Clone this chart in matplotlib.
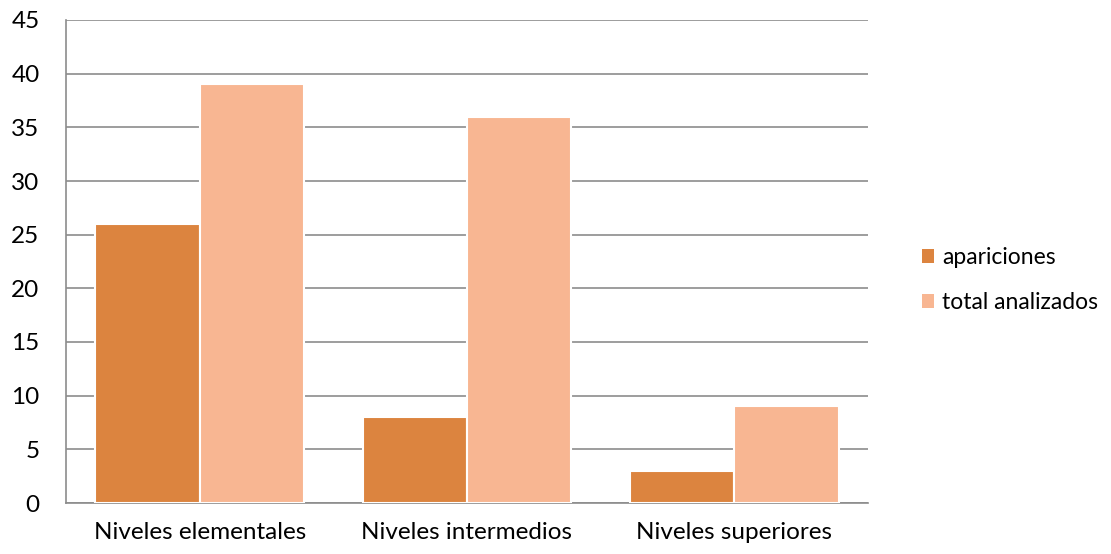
import numpy as np
import matplotlib
matplotlib.use("Agg")
import matplotlib.pyplot as plt
from matplotlib.patches import Patch

categories = ["Niveles elementales", "Niveles intermedios", "Niveles superiores"]
apariciones = [26, 8, 3]
total_analizados = [39, 36, 9]
series_names = ["apariciones", "total analizados"]
colors = ["#DC843F", "#F8B692"]

plt.rcParams["font.family"] = ["Lato", "DejaVu Sans"]

fig = plt.figure(figsize=(11.11, 5.54), dpi=100)
ax = fig.add_axes([66 / 1111, 1 - 503 / 554, (868 - 66) / 1111, (503 - 20) / 554])

x = np.arange(len(categories))
w = 0.39
for i, (vals, col) in enumerate(zip([apariciones, total_analizados], colors)):
    ax.bar(x + (i - 0.5) * w, vals, width=w, color=col, edgecolor="white",
           linewidth=1.5, zorder=3)

ax.set_xlim(-0.5, len(categories) - 0.5)
ax.set_ylim(0, 45)
ax.set_yticks(range(0, 46, 5))
ax.set_xticks(x)
ax.set_xticklabels(categories)
ax.tick_params(axis="both", length=0, labelsize=17.5, colors="black")
ax.tick_params(axis="x", pad=14)
ax.tick_params(axis="y", pad=19)
ax.grid(axis="y", color="#8C8C8C", linewidth=1.2, zorder=0)
for s in ["top", "right"]:
    ax.spines[s].set_visible(False)
for s in ["left", "bottom"]:
    ax.spines[s].set_color("#8C8C8C")
    ax.spines[s].set_linewidth(1.2)

handles = [Patch(facecolor=c, edgecolor="none") for c in colors]
fig.legend(handles, series_names, loc="center left", bbox_to_anchor=(901 / 1111, 1 - 280 / 554),
           frameon=False, fontsize=16.5, handlelength=0.55, handleheight=0.55,
           handletextpad=0.35, labelspacing=1.05)

fig.savefig("out.png", dpi=100)
